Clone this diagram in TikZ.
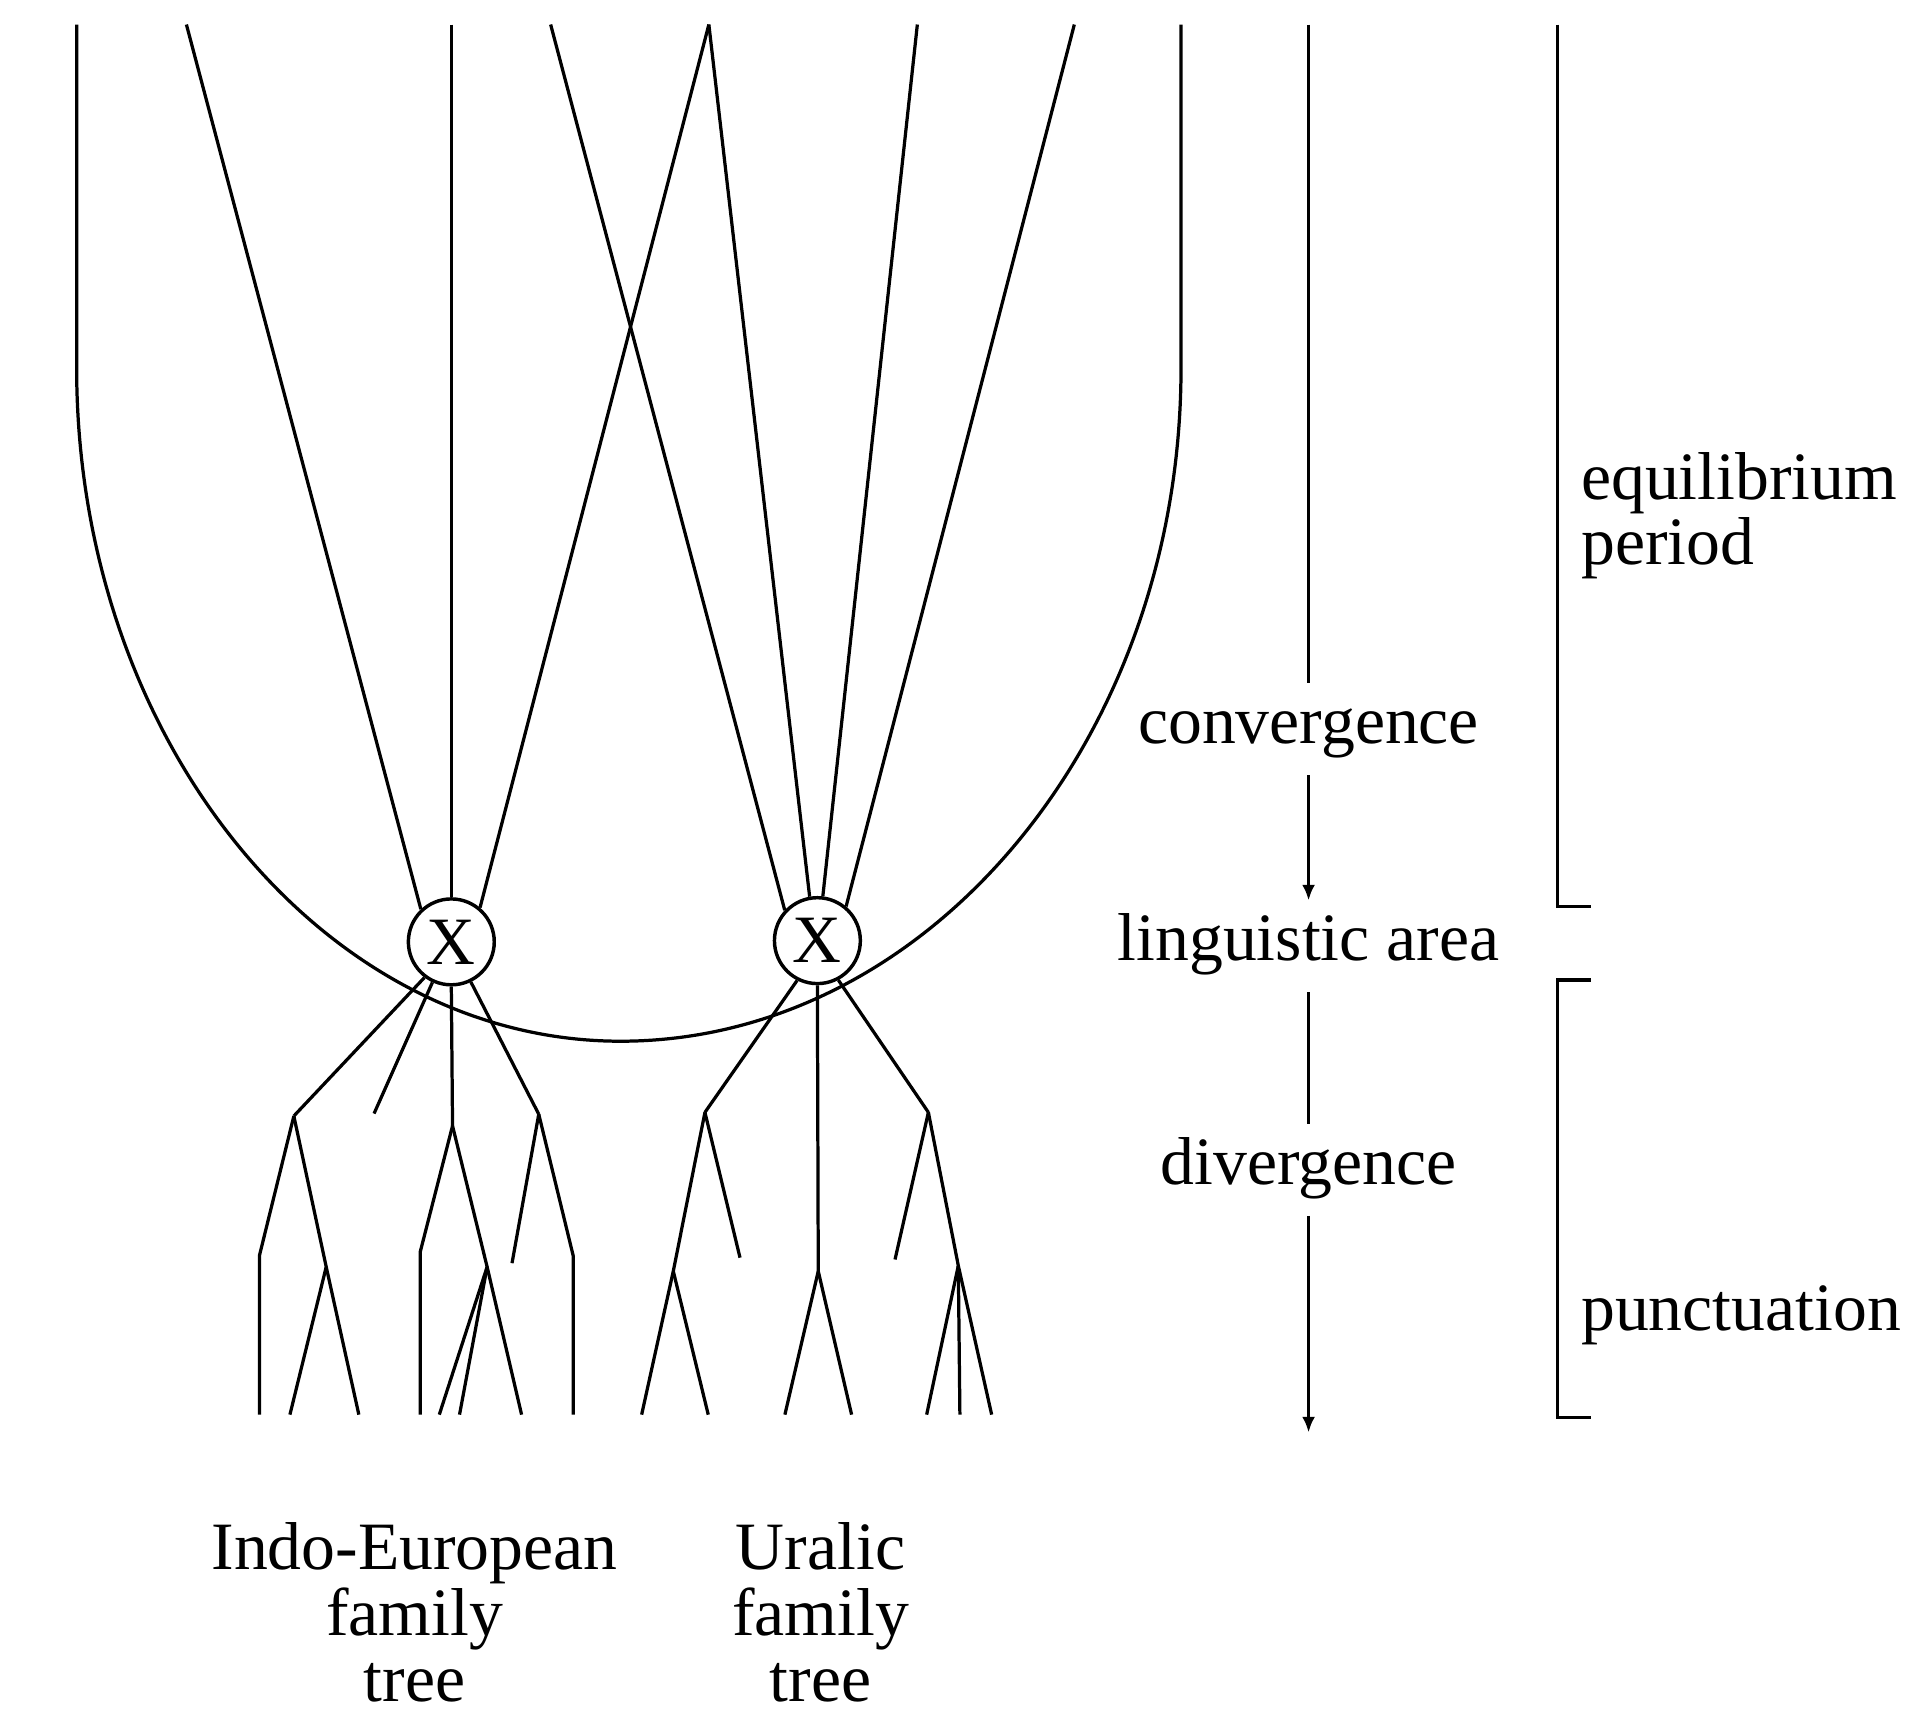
\documentclass[tikz,border=0pt]{standalone}
\usepackage{fontspec}
\setmainfont{Liberation Serif}
\usetikzlibrary{arrows.meta,positioning}

\begin{document}
\begin{tikzpicture}[
  x=0.01cm, y=-0.01cm,
  line width=0.75pt,
  every node/.style={font=\fontsize{15.7}{15.2}\selectfont},
  xnode/.style={draw, circle, minimum size=0.7cm, inner sep=0pt, line width=0.8pt},
  stage/.style={text height=10pt, text depth=3.5pt, inner sep=3.5pt, anchor=base},
  period/.style={align=left, anchor=base west, inner sep=0pt},
  family/.style={align=center, anchor=base, inner sep=0pt},
  arrow/.style={-{Latex[length=3.6pt,width=3pt]}}
]
  \useasboundingbox (0,0) rectangle (1568,1394);

  % Nodes
  \node (ie) [xnode] at (368,768) {X};
  \node (ur) [xnode] at (666.5,767) {X};

  \node (conv) [stage] at (1067,606) {convergence};
  \node (area) [stage] at (1067,783) {linguistic area};
  \node (div) [stage] at (1067,965.5) {divergence};

  % (base of a multi-line node = its last line)
  \node (equi) [period] at (1288,460.5) {equilibrium\\period};
  \node (punct) [period] at (1288,1084.5) {punctuation};

  \node (ielabel) [family] at (338,1387) {Indo-European\\family\\tree};
  \node (urlabel) [family] at (669,1387) {Uralic\\family\\tree};

  % Top ends
  \coordinate (uL) at (62.5,20);
  \coordinate (uR) at (963,20);
  \coordinate (ta) at (152,20);
  \coordinate (tb) at (368,20);
  \coordinate (td) at (449,20);
  \coordinate (apex) at (578,20);
  \coordinate (te) at (748,20);
  \coordinate (tf) at (876,20);
  \coordinate (ttop) at (1067,20);
  \coordinate (tend) at (1067,1168);

  % Branch points
  \coordinate (ieL) at (239.6,910);
  \coordinate (ieS) at (305,908);
  \coordinate (ieC) at (369,918);
  \coordinate (ieR) at (439.3,908.5);
  \coordinate (ieLL) at (211.5,1024);
  \coordinate (ieLR) at (266,1033);
  \coordinate (ieCL) at (342.6,1021);
  \coordinate (ieCR) at (397.2,1033);
  \coordinate (ieRL) at (417.5,1030);
  \coordinate (ieRR) at (467.4,1024);
  \coordinate (urL) at (574.8,907);
  \coordinate (urC) at (667.2,1036.5);
  \coordinate (urR) at (757,907);
  \coordinate (urLL) at (549,1036.5);
  \coordinate (urLS) at (603.4,1025.5);
  \coordinate (urRS) at (729.8,1027);
  \coordinate (urRR) at (781.4,1032);

  % Leaves
  \foreach \n/\x in {1/211.5,2/236.4,3/292.6,4/342.6,5/358.2,6/374.7,7/425.3,8/467.4}
    \coordinate (ie\n) at (\x,1153.5);
  \foreach \n/\x in {1/523.2,2/577.5,3/640,4/694.4,5/755.6,6/782.7,7/808.6}
    \coordinate (ur\n) at (\x,1153.5);

  % Contact area
  \draw (uL) -- (62.5,300) .. controls (62.5,602) and (262,849) .. (506,849)
        .. controls (757,849) and (963,602) .. (963,300) -- (uR);

  % Convergence lines
  \draw (ta) -- (ie.133);
  \draw (tb) -- (ie.north);
  \draw (apex) -- (ie.50);
  \draw (td) -- (ur.137);
  \draw (apex) -- (ur.100);
  \draw (te) -- (ur.83);
  \draw (tf) -- (ur.50);

  % Indo-European tree
  \draw (ie.233) -- (ieL);
  \draw (ie.245) -- (ieS);
  \draw (ie.south) -- (ieC);
  \draw (ie.296) -- (ieR);
  \draw (ieL) -- (ieLL) -- (ie1);
  \draw (ieL) -- (ieLR) -- (ie2);
  \draw (ieLR) -- (ie3);
  \draw (ieC) -- (ieCL) -- (ie4);
  \draw (ieC) -- (ieCR) -- (ie5);
  \draw (ieCR) -- (ie6);
  \draw (ieCR) -- (ie7);
  \draw (ieR) -- (ieRL);
  \draw (ieR) -- (ieRR) -- (ie8);

  % Uralic tree
  \draw (ur.243) -- (urL);
  \draw (ur.south) -- (urC);
  \draw (ur.298) -- (urR);
  \draw (urL) -- (urLL) -- (ur1);
  \draw (urLL) -- (ur2);
  \draw (urL) -- (urLS);
  \draw (urC) -- (ur3);
  \draw (urC) -- (ur4);
  \draw (urR) -- (urRS);
  \draw (urR) -- (urRR) -- (ur5);
  \draw (urRR) -- (ur6);
  \draw (urRR) -- (ur7);

  % Time axis
  \draw (ttop) -- (conv);
  \draw [arrow] (conv) -- (area);
  \draw (area) -- (div);
  \draw [arrow] (div) -- (tend);

  % Periods
  \draw (1270,20) |- (1297,739);
  \draw (1297,799) -| (1270,1156) -- (1297,1156);
\end{tikzpicture}
\end{document}
